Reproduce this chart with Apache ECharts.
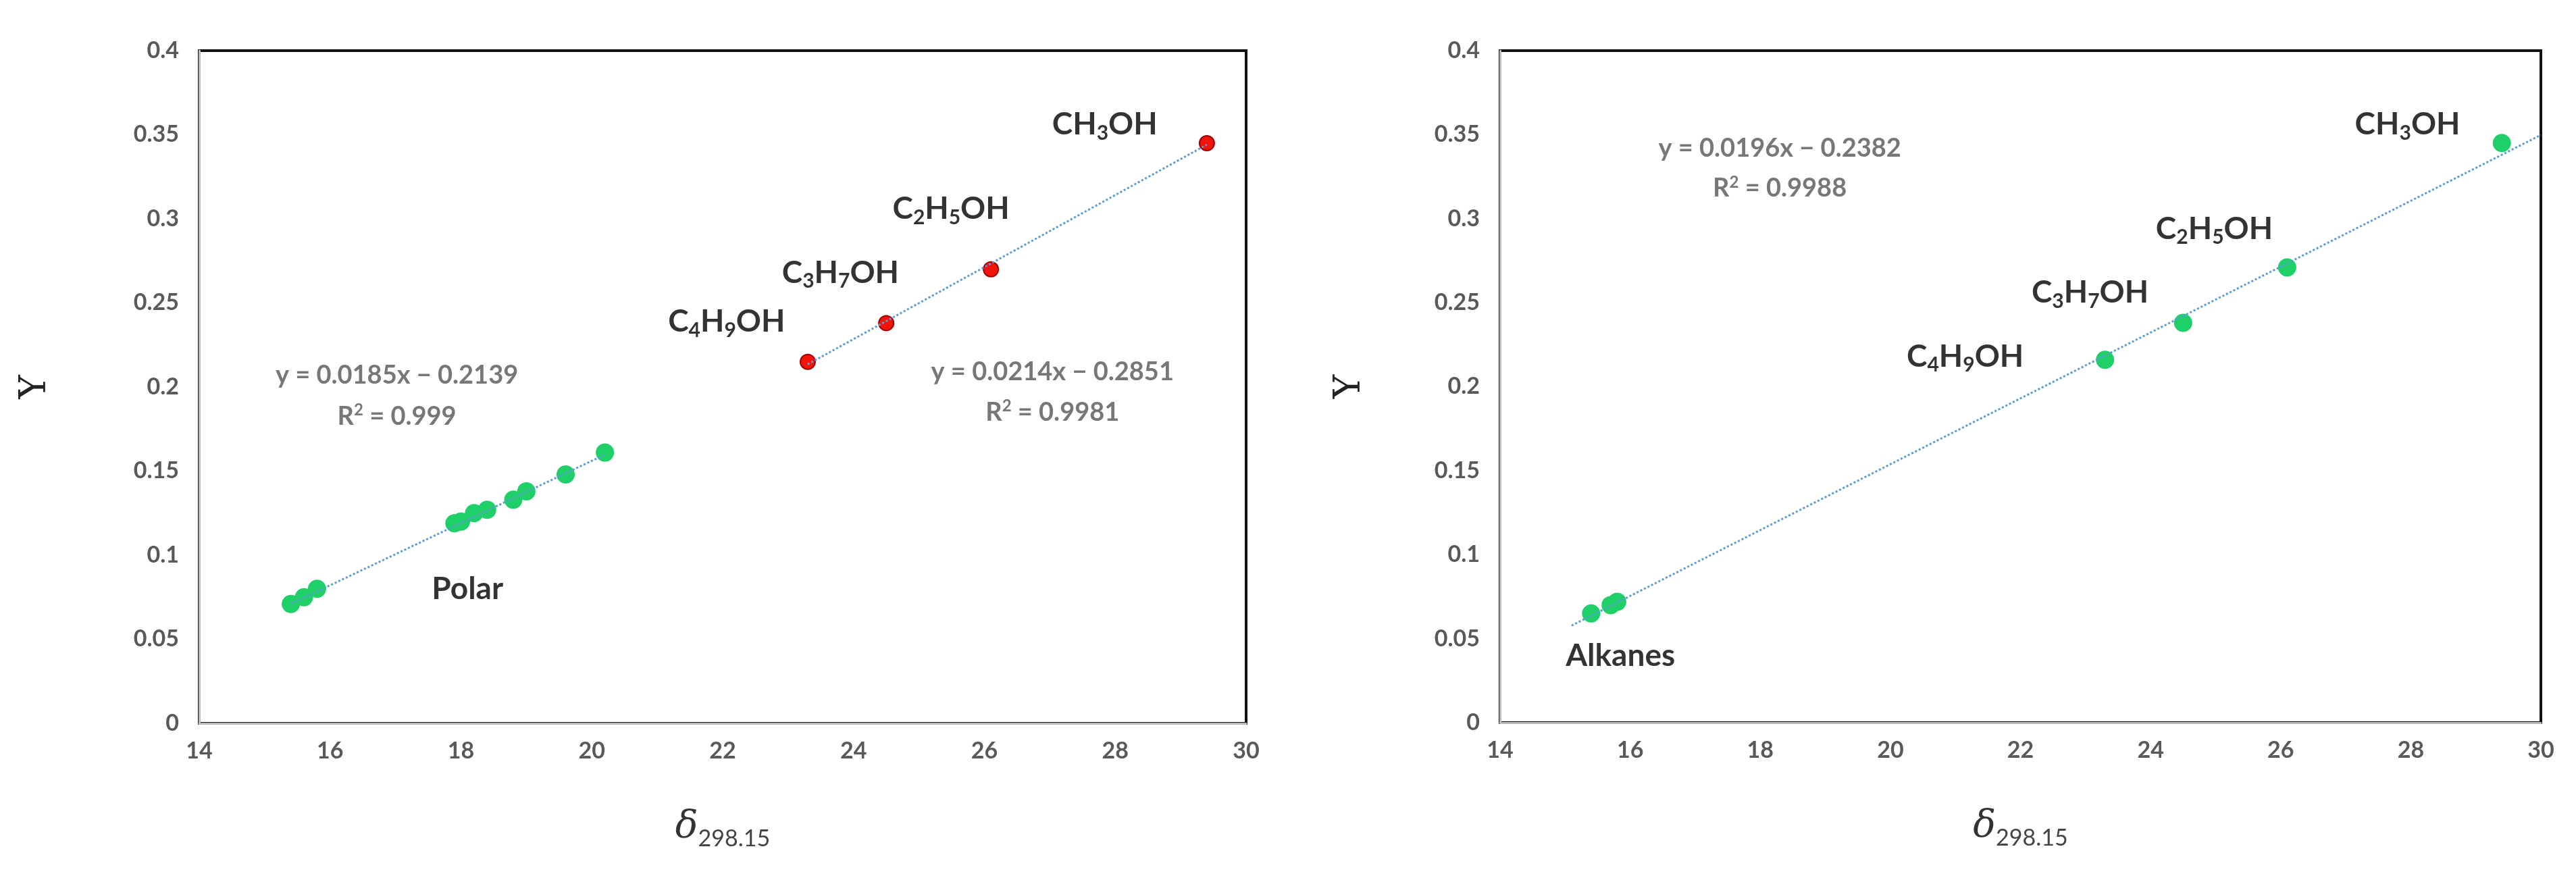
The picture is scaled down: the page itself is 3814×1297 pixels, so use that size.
<!DOCTYPE html><html><head><meta charset="utf-8">
<script src="https://cdn.jsdelivr.net/npm/echarts@6/dist/echarts.min.js"></script>
<style>html,body{margin:0;background:#fff}#c{width:3814px;height:1297px}</style></head><body><div id="c"></div>
<script>
const xTicks=[14,16,18,20,22,24,26,28,30];
const leftPolar=[[15.4,0.071],[15.6,0.075],[15.8,0.080],[17.9,0.119],[18.0,0.120],[18.2,0.125],[18.4,0.127],[18.8,0.133],[19.0,0.138],[19.6,0.148],[20.2,0.161]];
const leftAlcohols=[[23.3,0.215],[24.5,0.238],[26.1,0.270],[29.4,0.345]];
const leftPolarTrend=[[15.4,0.0710],[20.2,0.1598]];
const leftAlcTrend=[[23.3,0.2135],[29.4,0.3441]];
const rightPoints=[[15.4,0.065],[15.7,0.070],[15.8,0.072],[23.3,0.216],[24.5,0.238],[26.1,0.271],[29.4,0.345]];
const rightTrend=[[15.1,0.0578],[30,0.3498]];
const leftLabels=[[27.84,0.356,'CH{s|3}OH'],[25.49,0.306,'C{s|2}H{s|5}OH'],[23.8,0.268,'C{s|3}H{s|7}OH'],[22.06,0.239,'C{s|4}H{s|9}OH'],[18.1,0.08,'Polar']];
const leftEqs=[[17.02,0.207,'y = 0.0185x − 0.2139'],[17.02,0.1825,'R{p|2} = 0.999'],[27.04,0.209,'y = 0.0214x − 0.2851'],[27.04,0.185,'R{p|2} = 0.9981']];
const rightLabels=[[27.95,0.356,'CH{s|3}OH'],[24.98,0.294,'C{s|2}H{s|5}OH'],[23.07,0.256,'C{s|3}H{s|7}OH'],[21.15,0.218,'C{s|4}H{s|9}OH'],[15.85,0.0397,'Alkanes']];
const rightEqs=[[18.3,0.342,'y = 0.0196x − 0.2382'],[18.3,0.318,'R{p|2} = 0.9988']];
const F='Lato, "Open Sans", sans-serif';
const bold={n:{fontSize:46,fontWeight:'bold',color:'#000',fontFamily:F},s:{fontSize:30,fontWeight:'bold',color:'#000',fontFamily:F,padding:[26,0,0,0]}};
const eqr={fontSize:38,color:'#555',fontFamily:F,fontWeight:'bold'};
const eqrich={e:eqr,p:{fontSize:24,color:'#555',fontFamily:F,fontWeight:'bold',padding:[0,0,18,0]}};
function wrap(s){return s.split(/(\{[sp]\|[^}]*\})/).map(t=>t.startsWith('{')?t:(t?'{n|'+t+'}':'')).join('');}
function wrapE(s){return s.split(/(\{[sp]\|[^}]*\})/).map(t=>t.startsWith('{')?t:(t?'{e|'+t+'}':'')).join('');}
function textSeries(arr,idx,rich,w){return{type:'scatter',xAxisIndex:idx,yAxisIndex:idx,symbolSize:0,silent:true,z:5,
 data:arr.map(a=>({value:[a[0],a[1]],name:w(a[2])})),
 label:{show:true,position:'inside',formatter:p=>p.name,rich:rich}};}
function axes(idx,gap){
 return {x:{type:'value',gridIndex:idx,min:14,max:30,interval:2,name:'{d|δ}{s|298.15}',nameLocation:'middle',nameGap:120,
   nameTextStyle:{rich:{d:{fontSize:56,fontStyle:'italic',fontFamily:'DejaVu Serif',color:'#333'},s:{fontSize:34,color:'#444',fontFamily:F,padding:[34,0,0,0]}}},
   axisLine:{lineStyle:{color:'#bbb',width:3}},axisTick:{show:false},splitLine:{show:false},
   axisLabel:{color:'#595959',fontSize:34,fontWeight:'bold',fontFamily:F,margin:24}},
  y:{type:'value',gridIndex:idx,min:0,max:0.4,interval:0.05,name:'Y',nameLocation:'middle',nameGap:gap,nameRotate:90,
   nameTextStyle:{fontSize:54,fontFamily:'DejaVu Serif',color:'#222'},
   axisLine:{show:true,lineStyle:{color:'#bbb',width:3}},axisTick:{show:false},splitLine:{show:false},
   axisLabel:{color:'#595959',fontSize:34,fontWeight:'bold',fontFamily:F,margin:30,formatter:v=>String(+v.toFixed(2))}}};
}
const a0=axes(0,215),a1=axes(1,195);
const trendStyle={color:'#5B9BD5',width:3,type:'dotted'};
const chart=echarts.init(document.getElementById('c'));
chart.setOption({animation:false,
 grid:[{left:295,right:1969,top:75,bottom:226,show:true,borderColor:'#111',borderWidth:4},
       {left:2221,right:52,top:75,bottom:227,show:true,borderColor:'#111',borderWidth:4}],
 xAxis:[a0.x,a1.x],yAxis:[a0.y,a1.y],
 series:[
  {type:'line',data:leftPolarTrend,symbol:'none',lineStyle:trendStyle,xAxisIndex:0,yAxisIndex:0},
  {type:'line',data:leftAlcTrend,symbol:'none',lineStyle:trendStyle,xAxisIndex:0,yAxisIndex:0},
  {type:'scatter',data:leftPolar,symbolSize:27,itemStyle:{color:'#1FCF68',opacity:1},xAxisIndex:0,yAxisIndex:0},
  {type:'scatter',data:leftAlcohols,symbolSize:22,itemStyle:{color:'#F0140A',borderColor:'#A00000',borderWidth:2,opacity:1},xAxisIndex:0,yAxisIndex:0},
  {type:'line',data:rightTrend,symbol:'none',lineStyle:trendStyle,xAxisIndex:1,yAxisIndex:1},
  {type:'scatter',data:rightPoints,symbolSize:27,itemStyle:{color:'#1FCF68',opacity:1},xAxisIndex:1,yAxisIndex:1},
  textSeries(leftLabels,0,bold,wrap),textSeries(leftEqs,0,eqrich,wrapE),
  textSeries(rightLabels,1,bold,wrap),textSeries(rightEqs,1,eqrich,wrapE)
 ]});
</script></body></html>
